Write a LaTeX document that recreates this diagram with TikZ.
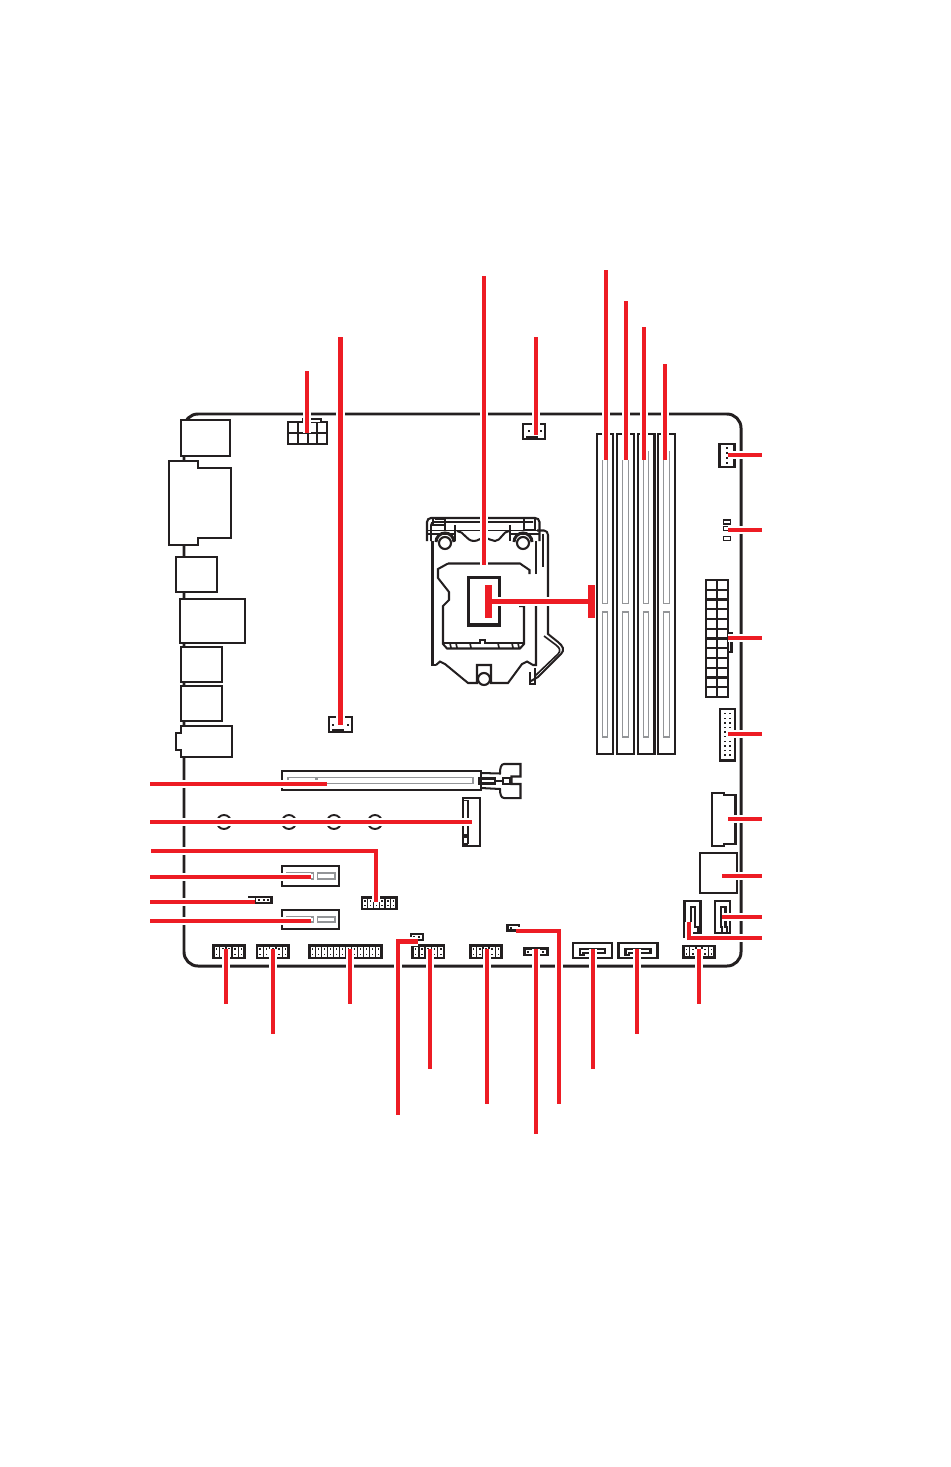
\documentclass[tikz,border=0pt]{standalone}
\begin{document}
\begin{tikzpicture}[x=0.02cm,y=-0.02cm,line join=miter,
	board/.style={line width=1.7pt,draw=partblack},
	part/.style={line width=1.2pt,draw=partblack,fill=white},
	hdr/.style={line width=1.3pt,draw=partblack,fill=white},
	thin part/.style={line width=0.95pt,draw=partblack},
	slot/.style={line width=1.1pt,draw=slotgray},
	leader/.style={line width=2.3pt,draw=leaderred,preaction={draw=white,line width=4.6pt}}]
\definecolor{partblack}{HTML}{231F20}
\definecolor{slotgray}{HTML}{939598}
\definecolor{leaderred}{HTML}{ED1C24}
\def\pinhdr#1#2#3#4#5{
	\draw[hdr] (#1,#2) rectangle (#3,#4);
	\pgfmathsetmacro\pitch{(#3-#1)/#5}
	\foreach \i in {1,...,#5}{
		\pgfmathsetmacro\cx{#1+(\i-0.5)*\pitch}
		\fill[partblack] (\cx-0.8,#2+2.8) rectangle (\cx+0.8,#2+4.4);
		\fill[partblack] (\cx-0.8,#4-4.4) rectangle (\cx+0.8,#4-2.8);
		\fill[partblack] ({#1+(\i-1)*\pitch-0.7},#2) rectangle ({#1+(\i-1)*\pitch+0.7},#4);
	}
}
\useasboundingbox (0,0) rectangle (950,1467);

% board
\draw[board] (198,414) -- (727,414) arc[start angle=-90,end angle=0,radius=14]
	-- (741,952) arc[start angle=0,end angle=90,radius=14]
	-- (198,966) arc[start angle=90,end angle=180,radius=14]
	-- (184,428) arc[start angle=180,end angle=270,radius=14];

% back panel
\draw[part] (181,420) rectangle (230,456);
\draw[part] (169,461) -- (198,461) -- (198,468) -- (231,468) -- (231,538) -- (198,538) -- (198,545) -- (169,545) -- cycle;
\draw[part] (176,557) rectangle (217,592);
\draw[part] (180,599) rectangle (245,643);
\draw[part] (181,647) rectangle (222,682);
\draw[part] (181,686) rectangle (222,721);
\draw[part] (181,726) -- (232,726) -- (232,757) -- (181,757) -- (181,750) -- (176,750) -- (176,733) -- (181,733) -- cycle;

% power connector
\draw[part] (288,422) rectangle (327,444);
\draw[part] (288,433) -- (327,433);
\foreach \x in {298,308,317}{
	\draw[part] (\x,422) -- (\x,444);
}
\draw[part] (303,422) -- (303,419) -- (321,419) -- (321,422);

% fan connectors
\draw[part] (329,717) rectangle (352,732);
\fill[partblack] (332,728.5) rectangle (344,731);
\foreach \x in {333,348}{
	\fill[partblack] (\x-1,723.5) rectangle (\x+1,725.5);
}
\draw[part] (523,424) rectangle (545,439);
\fill[partblack] (526,435.5) rectangle (538,438);
\foreach \x in {529,541}{
	\fill[partblack] (\x-1,430) rectangle (\x+1,432);
}
\draw[part] (719.5,444) rectangle (734.5,467);
\foreach \y in {448,453,458,463}{
	\fill[partblack] (725.5,\y-1) rectangle (727.5,\y+1);
}

% socket
\draw[thin part,line width=1.15pt] (436,665) -- (440,661.5) -- (445,664) -- (468,683) -- (477,683) -- (477,665) -- (491,665) -- (491,683) -- (508,683) -- (522,664) -- (527,661.5) -- (533,665) -- (536,665) -- (536,604);
\draw[thin part,line width=1.15pt] (536,574) -- (536,541);
\draw[thin part,line width=1.15pt] (432.5,541) -- (432.5,665) -- (436,665);
\draw[part] (484,679) circle[radius=6];
\draw[thin part,line width=1.15pt] (448,563.5) -- (520,563.5) -- (529.5,570) -- (529.5,574);
\draw[thin part,line width=1.15pt] (448,563.5) -- (438,569) -- (438,578) -- (449,592) -- (449,600) -- (443,606) -- (443,644) -- (447,648.5) -- (520,648.5) -- (524,644) -- (524,606) -- (519,606);
\draw[thin part] (444,643) -- (480,643) -- (480,640) -- (485,640) -- (485,643) -- (523,643);
\foreach \x in {450,456,470,498,512,518}{
	\draw[thin part] (\x,643) -- (\x+1,648);
}
\draw[partblack,line width=2pt] (468.5,577.5) rectangle (499.5,625);

% socket latch
\draw[thin part,line width=1.2pt] (427,541) -- (427,522) to[out=90,in=180] (431,518) -- (535,518) to[out=0,in=90] (539.5,522) -- (539.5,541);
\draw[thin part] (431,541) -- (431,525) to[out=90,in=180] (434,522) -- (533,522);
\draw[thin part] (433,519) -- (433,525) -- (445,525) -- (445,531);
\draw[thin part] (435,519) -- (445,519) -- (445,525);
\draw[thin part] (535,519) -- (535,530) -- (524,530) -- (524,519);
\draw[thin part,line width=1.1pt] (428,530.5) -- (539,530.5);
\draw[thin part] (428,534) -- (456,534);
\draw[thin part] (510,534) -- (539,534);
\foreach \x in {455,510}{
	\draw[thin part,line width=1.15pt] (\x,525) -- (\x,541);
}
\draw[thin part,line width=1.15pt] (457,531) .. controls (464,531) and (466,541) .. (474,541) .. controls (478,541) and (480,538) .. (484,538);
\draw[thin part,line width=1.15pt] (484,538) .. controls (489,538) and (491,541) .. (495,541) .. controls (501,541) and (503,531) .. (509,531);
\foreach \x in {445,523}{
	\draw[part] (\x,543) circle[radius=6];
	\draw[partblack,line width=1.7pt] (\x-9,542) arc[start angle=180,end angle=360,radius=9];
}

% socket lever
\draw[thin part,line width=1.15pt] (537,530.5) -- (544,530.5) to[out=0,in=90] (548,535) -- (548,634) -- (558,642) .. controls (563,646) and (565,650) .. (561,654) -- (538,677) -- (530,681.5);
\draw[thin part] (543,534) -- (543,567);
\draw[thin part] (544,636) -- (556,645) .. controls (560,648) and (561,651) .. (558,654) -- (535,676);
\draw[thin part,line width=1.15pt] (530,672) -- (530,684) -- (535,684) -- (535,668);

% memory slots
\foreach \xa/\xb/\sa/\sb/\st in {597/613/602.5/607.5/460,617/634/622.5/628.5/460,638/654.5/643.5/648.5/451,658/675/663.5/669.5/451}{
	\draw[part] (\xa,434) rectangle (\xb,754);
	\draw[slot] (\sa,\st) -- (\sa,603.5) -- (\sb,603.5) -- (\sb,\st);
	\draw[slot] (\sa,612) rectangle (\sb,737);
}

% ATX connector
\draw[part] (728,633.5) -- (731.5,633.5) -- (731.5,652) -- (728,652);
\draw[part] (706,580) rectangle (728,697);
\draw[part] (717,580) -- (717,697);
\foreach \i in {1,...,11}{
	\draw[part] (706,{580+\i*117/12}) -- (728,{580+\i*117/12});
}

% front panel side
\foreach \y in {520,526.5,536.5}{
	\draw[thin part] (723.5,\y) rectangle (730.5,\y+4);
}
\draw[part] (719.8,709) rectangle (735.2,760.5);
\foreach \i in {0,...,9}{
	\fill[partblack] (724.3,713+\i*4.6) rectangle (725.7,714.4+\i*4.6);
	\fill[partblack] (729.3,713+\i*4.6) rectangle (730.7,714.4+\i*4.6);
}
\draw[part] (712,793) -- (724,793) -- (724,795) -- (735.5,795) -- (735.5,844) -- (724,844) -- (724,846) -- (712,846) -- cycle;
\draw[part] (700,853) rectangle (737,893);

% expansion slots
\draw[part] (282,771) rectangle (481,790);
\draw[slot] (288,777.5) rectangle (316,783.5);
\draw[slot] (317.5,777.5) rectangle (473,783.5);
\draw[thin part,line width=1.15pt] (481,773) -- (500,773.5) .. controls (500,768) and (501,764) .. (504,764) -- (520.5,764) -- (520.5,776.5) -- (511.5,776.5) -- (511.5,784) -- (520.5,784) -- (520.5,798) -- (504,798) .. controls (501,798) and (500,794) .. (500,789) -- (481,788);
\draw[thin part,line width=1.15pt] (479,778.5) rectangle (495,783.5);
\draw[thin part,line width=1.15pt] (503,778) rectangle (510,784);
\draw[thin part,line width=1.15pt] (495,781) -- (503,781);

\draw[part] (463,798) rectangle (480,846);
\draw[thin part] (463,800.5) -- (468,800.5) -- (468,843.5) -- (463,843.5);
\fill[partblack] (464,834) rectangle (468,838);
\fill[partblack] (463,843.5) rectangle (468,846);

\foreach \x in {224,289,334,375}{
	\draw[thin part,line width=1.1pt] (\x,822) circle[radius=7];
}

\foreach \ya/\yb in {866/886,910/929}{
	\draw[part] (282,\ya) rectangle (339,\yb);
	\draw[slot] (287,\ya+7) rectangle (313.5,\yb-7);
	\draw[slot] (317.5,\ya+7) rectangle (335,\yb-7);
}

% headers
\pinhdr{362}{897.5}{396.5}{909}{6}
\pinhdr{213.5}{945.5}{244.5}{958}{5}
\pinhdr{257}{945.5}{288.5}{958}{5}
\pinhdr{309.5}{945.5}{381.5}{958}{12}
\pinhdr{412.5}{945.5}{444}{958}{5}
\pinhdr{470.5}{945.5}{501.5}{958}{5}
\pinhdr{683.5}{946}{714.5}{957.5}{5}

% jumpers
\draw[hdr] (248,897) -- (271.5,897) -- (271.5,903) -- (255,903) -- (255,897);
\foreach \x in {259,264,268}{
	\fill[partblack] (\x-0.9,899.1) rectangle (\x+0.9,900.9);
}
\draw[hdr] (411,934) rectangle (423,940);
\foreach \x in {414,419}{
	\fill[partblack] (\x-1,936) rectangle (\x+1,938);
}
\draw[hdr] (507.5,925) rectangle (519,930.5);
\fill[partblack] (510,926.8) rectangle (512,928.8);
\draw[hdr] (524.5,948.5) rectangle (547.5,955);
\foreach \x in {528,533,543}{
	\fill[partblack] (\x-1,950.8) rectangle (\x+1,952.8);
}

% SATA connectors
\foreach \x in {573,618.5}{
	\draw[part,line width=1.3pt] (\x,943) rectangle (\x+39,958);
	\draw[thin part,line width=1.15pt] (\x+7,955) -- (\x+7,948.5) -- (\x+32,948.5) -- (\x+32,952.5) -- (\x+10.5,952.5) -- (\x+10.5,955) -- cycle;
}
\draw[part,fill=none] (684.5,938) -- (684.5,901) -- (700.5,901) -- (700.5,938);
\draw[thin part,line width=1.15pt] (691,907) -- (695,907) -- (695,926.5) -- (698,926.5) -- (698,932.5) -- (691,932.5) -- cycle;
\draw[part,fill=none] (715,933.5) -- (715,901) -- (730,901) -- (730,933.5) -- (715,933.5);
\draw[thin part,line width=1.15pt] (721,907) -- (725.5,907) -- (725.5,926.5) -- (727,926.5) -- (727,932.5) -- (722,932.5) -- (722,926.5) -- (721,926.5) -- cycle;

% leaders
\foreach \y/\xe in {784/327,822/472,877/311,902/255,921/311}{
	\draw[leader] (150,\y) -- (\xe,\y);
}
\draw[leader] (151,851) -- (376,851) -- (376,902);
\foreach \x/\ya/\yb in {307/371/433,340.5/337/725,536/337/435,606/270/460,626/301/460,644/327/460,665/364/460}{
	\draw[leader] (\x,\ya) -- (\x,\yb);
}
\draw[leader] (484,276) -- (484,565);
\foreach \x/\ye in {226/1003.5,273/1033.5,350/1003.5,430/1068.5,487/1103.5,536/1133.5,593/1068.5,637/1033.5,699/1003.5}{
	\draw[leader] (\x,949) -- (\x,\ye);
}
\draw[leader] (398,1114.5) -- (398,941.5) -- (418,941.5);
\draw[leader] (515.5,931) -- (559,931) -- (559,1103.5);
\foreach \y/\xs in {455/728,530/728,638/728,734/728,819/728,876/722,917/721.5}{
	\draw[leader] (\xs,\y) -- (762,\y);
}
\draw[leader] (689,922) -- (689,938) -- (762,938);
\draw[leader] (492,601.5) -- (590,601.5);
\fill[leaderred] (485,585) rectangle (492,618);
\fill[leaderred] (588,585) rectangle (595,618);

\end{tikzpicture}
\end{document}
